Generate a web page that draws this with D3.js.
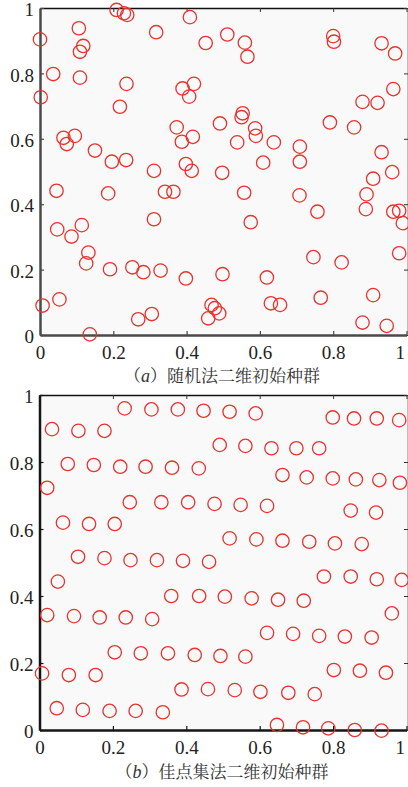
<!DOCTYPE html>
<html>
<head>
<meta charset="utf-8">
<script src="https://cdn.jsdelivr.net/npm/d3@7"></script>
<style>
  body { margin: 0; background: #fff; }
  .tick text { font-family: "Liberation Serif", "DejaVu Serif", serif; font-size: 19px; fill: #222; }
  .cap { font-family: "Noto Serif CJK SC", "Noto Sans CJK SC", sans-serif; font-size: 17px; fill: #333; }
</style>
</head>
<body>
<svg width="408" height="787"></svg>
<script>
// (a) random init population
var randX = [0.000,0.036,0.002,0.106,0.118,0.109,0.109,0.209,0.229,0.238,0.236,0.218,0.317,0.409,0.452,0.389,0.420,0.407,0.373,0.417,
  0.387,0.398,0.414,0.311,0.064,0.095,0.073,0.150,0.196,0.235,0.511,0.559,0.566,0.800,0.802,0.932,0.969,0.964,0.880,0.921,
  0.491,0.553,0.550,0.587,0.589,0.538,0.638,0.709,0.709,0.791,0.857,0.932,0.609,0.497,0.909,0.961,0.045,0.186,0.341,0.364,
  0.311,0.047,0.114,0.086,0.132,0.126,0.191,0.252,0.282,0.329,0.398,0.007,0.053,0.268,0.305,0.136,0.557,0.708,0.891,0.889,
  0.757,0.964,0.980,0.990,0.575,0.746,0.823,0.980,0.498,0.619,0.909,0.766,0.630,0.655,0.468,0.477,0.489,0.459,0.880,0.946];
var randY = [0.904,0.798,0.727,0.938,0.884,0.866,0.787,0.994,0.984,0.979,0.768,0.698,0.926,0.972,0.893,0.754,0.768,0.729,0.635,0.606,
  0.591,0.523,0.502,0.502,0.603,0.609,0.584,0.564,0.530,0.535,0.919,0.894,0.851,0.914,0.897,0.892,0.861,0.752,0.713,0.710,
  0.647,0.678,0.666,0.632,0.609,0.589,0.589,0.576,0.530,0.650,0.635,0.559,0.527,0.496,0.478,0.498,0.441,0.433,0.438,0.438,
  0.354,0.323,0.336,0.301,0.252,0.219,0.201,0.207,0.192,0.197,0.173,0.090,0.109,0.048,0.064,0.002,0.435,0.427,0.430,0.385,
  0.377,0.377,0.380,0.342,0.345,0.238,0.222,0.250,0.186,0.176,0.122,0.114,0.097,0.092,0.092,0.082,0.066,0.051,0.038,0.028];

// (b) good point set init population
var goodX = [0.232,0.305,0.377,0.447,0.518,0.589,0.799,0.857,0.919,0.980,
  0.034,0.106,0.177, 0.491,0.561,0.632,0.700,0.762,
  0.077,0.148,0.220,0.289,0.361,0.434, 0.662,0.728,0.799,0.862,0.926,0.982, 0.021,
  0.246,0.332,0.405,0.477,0.548,0.620,0.848,0.917, 0.064,0.135,0.205,
  0.105,0.177,0.248,0.320,0.391,0.462, 0.518,0.591,0.662,0.735,0.805,0.878,
  0.050,0.775,0.848,0.919,0.987, 0.359,0.435,0.505,0.578,0.650,0.720, 0.960,
  0.021,0.094,0.164,0.235,0.307, 0.620,0.691,0.762,0.832,0.905,
  0.205,0.276,0.350,0.423,0.493,0.561, 0.007,0.080,0.153,0.802,0.873,0.944,
  0.387,0.459,0.532,0.602,0.678,0.750, 0.047,0.118,0.191,0.262,0.336,
  0.647,0.718,0.787,0.859,0.932];
var goodY = [0.960,0.957,0.957,0.953,0.950,0.945,0.933,0.930,0.930,0.925,
  0.898,0.893,0.893, 0.851,0.848,0.841,0.841,0.841,
  0.794,0.791,0.786,0.786,0.783,0.781, 0.761,0.754,0.751,0.748,0.746,0.738, 0.723,
  0.680,0.680,0.680,0.675,0.672,0.669,0.655,0.649, 0.619,0.615,0.615,
  0.517,0.513,0.507,0.507,0.505,0.502, 0.572,0.569,0.565,0.562,0.557,0.555,
  0.443,0.458,0.458,0.450,0.448, 0.400,0.400,0.398,0.393,0.389,0.386, 0.348,
  0.343,0.340,0.336,0.336,0.331, 0.290,0.287,0.281,0.279,0.276,
  0.232,0.229,0.229,0.224,0.221,0.219, 0.169,0.164,0.164,0.179,0.177,0.171,
  0.121,0.122,0.119,0.114,0.111,0.107, 0.065,0.060,0.057,0.057,0.053,
  0.015,0.008,0.005,0.000,-0.002];

var tickVals = [0, 0.2, 0.4, 0.6, 0.8, 1];
var tickLabels = ['0', '0.2', '0.4', '0.6', '0.8', '1'];

var svg = d3.select('svg');

function panel(xs, ys, box, captionLetter, captionText, capY, axisColor) {
    var xScale = d3.scaleLinear().domain([0, 1]).range([box.l, box.r]);
    var yScale = d3.scaleLinear().domain([0, 1]).range([box.b, box.t]);

    // plot background
    svg.append('rect')
        .attr('x', box.l).attr('y', box.t)
        .attr('width', 410 - box.l).attr('height', box.b - box.t)
        .attr('fill', '#f9f9f9');

    var fmt = function(d, i) { return tickLabels[i]; };

    // mirrored ticks (inward), box style
    var top = svg.append('g').attr('transform', 'translate(0,' + box.t + ')')
        .call(d3.axisTop(xScale).tickValues(tickVals).tickSizeInner(-4).tickSizeOuter(0).tickFormat(''));
    var right = svg.append('g').attr('transform', 'translate(408,0)')
        .call(d3.axisRight(yScale).tickValues(tickVals).tickSizeInner(-4).tickSizeOuter(0).tickFormat(''));
    [top, right].forEach(function(g) {
        g.selectAll('line').attr('stroke', '#333');
        g.select('.domain').attr('stroke', '#111').attr('stroke-width', 1.5);
    });

    var xAxis = svg.append('g').attr('transform', 'translate(0,' + box.b + ')')
        .call(d3.axisBottom(xScale).tickValues(tickVals).tickSizeInner(-4).tickSizeOuter(0)
            .tickPadding(11).tickFormat(fmt));
    var yAxis = svg.append('g').attr('transform', 'translate(' + box.l + ',0)')
        .call(d3.axisLeft(yScale).tickValues(tickVals).tickSizeInner(-4).tickSizeOuter(0)
            .tickPadding(6).tickFormat(fmt));
    [xAxis, yAxis].forEach(function(g) {
        g.select('.domain').attr('stroke', axisColor).attr('stroke-width', 2.5);
        g.selectAll('.tick line').attr('stroke', axisColor).attr('stroke-width', 1.2);
        g.selectAll('.tick text').attr('fill', '#222');
    });
    yAxis.selectAll('.tick text').attr('dy', '0.4em');
    // last x label sits at the image edge: keep it inside
    xAxis.selectAll('.tick text').filter(function(d) { return d === 1; })
        .attr('text-anchor', 'end').attr('dx', '-0.1em');

    // points
    svg.append('g').selectAll('circle')
        .data(xs)
        .enter()
        .append('circle')
        .attr('cx', function(d) { return xScale(d); })
        .attr('cy', function(d, i) { return yScale(ys[i]); })
        .attr('r', 6.7)
        .attr('fill', 'none')
        .attr('stroke', '#e8322e')
        .attr('stroke-width', 1.3);

    // caption
    var cap = svg.append('text').attr('class', 'cap')
        .attr('x', 222).attr('y', capY).attr('text-anchor', 'middle');
    cap.append('tspan').text('（');
    cap.append('tspan').text(captionLetter)
        .attr('font-family', '"Liberation Serif", serif').attr('font-style', 'italic').attr('font-size', '18px');
    cap.append('tspan').text('）' + captionText);
}

panel(randX, randY, {l: 40, r: 406.5, t: 8, b: 335}, 'a', '随机法二维初始种群', 382, '#4a4a4a');
panel(goodX, goodY, {l: 39.5, r: 406.5, t: 395, b: 730}, 'b', '佳点集法二维初始种群', 778, '#151515');
</script>
</body>
</html>
